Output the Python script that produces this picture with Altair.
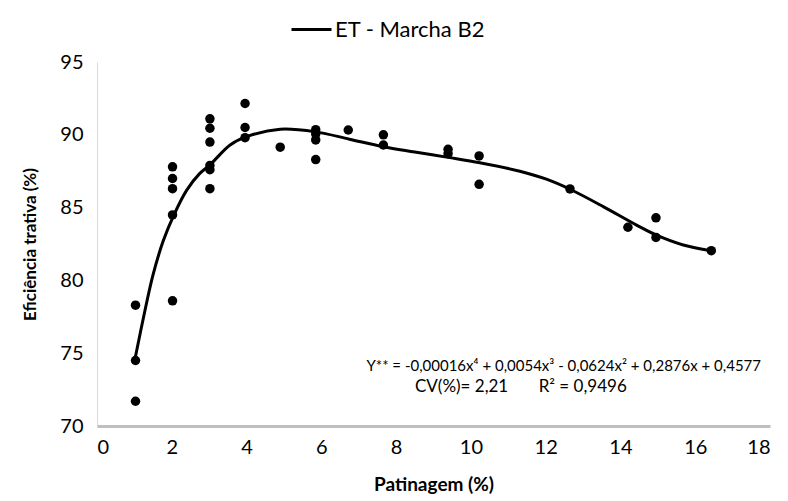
import altair as alt
import pandas as pd

# observed points
obs_x = [1.03, 1.03, 1.03,
         2.02, 2.02, 2.02, 2.02, 2.02,
         3.02, 3.02, 3.02, 3.02, 3.02, 3.02,
         3.96, 3.96, 3.96,
         4.90,
         5.85, 5.85, 5.85, 5.85,
         6.72,
         7.66, 7.66,
         9.39, 9.39,
         10.22, 10.22,
         12.65,
         14.20, 14.95, 14.95,
         16.43]
obs_y = [78.3, 74.5, 71.7,
         78.6, 84.5, 86.3, 87.0, 87.8,
         86.3, 87.6, 87.9, 89.5, 90.45, 91.1,
         92.15, 90.5, 89.8,
         89.15,
         90.35, 90.05, 89.65, 88.3,
         90.33,
         90.0, 89.3,
         89.0, 88.7,
         88.55, 86.6,
         86.28,
         83.65, 84.3, 82.95,
         82.04]

# fitted curve
fit_x = [1.02, 1.28, 1.5, 1.77, 2.04, 2.4, 2.75, 3.02, 3.56, 4.0, 4.9, 5.85, 6.75, 7.66,
         8.5, 9.39, 10.24, 11.31, 12.02, 12.65, 13.54, 14.43, 14.95, 15.68, 16.43]
fit_y = [74.65, 77.9, 80.4, 82.7, 84.4, 86.2, 87.35, 87.93, 89.3, 89.87, 90.38, 90.2, 89.7, 89.18,
         88.82, 88.45, 88.08, 87.5, 86.95, 86.26, 85.07, 83.8, 83.12, 82.43, 82.04]

series_name = "ET - Marcha B2"
eq_text = "Y** = -0,00016x\u2074 + 0,0054x\u00b3 - 0,0624x\u00b2 + 0,2876x + 0,4577"
stat_text = "CV(%)= 2,21\u00a0\u00a0\u00a0\u00a0\u00a0\u00a0 R\u00b2 = 0,9496"

x_ticks = list(range(0, 19, 2))
y_ticks = [70, 75, 80, 85, 90, 95]

pts = pd.DataFrame({"x": obs_x, "y": obs_y})
fit = pd.DataFrame({"x": fit_x, "y": fit_y, "s": [series_name] * len(fit_x)})

FONT = "Lato"

xs = alt.Scale(domain=[0, 18], nice=False, zero=False)
ys = alt.Scale(domain=[70, 95], nice=False, zero=False)

xax = alt.Axis(values=x_ticks, title="Patinagem (%)", grid=False, ticks=False,
               domainColor="#bfbfbf", domainWidth=3, labelFontSize=20, labelFont=FONT,
               labelColor="#000000", labelPadding=11, titleFont=FONT, titleFontSize=19,
               titleFontWeight="bold", titleColor="#000000", titlePadding=18, format="d")
yax = alt.Axis(values=y_ticks, title="Eficiência trativa (%)", grid=False, ticks=False,
               domainColor="#d9d9d9", domainWidth=1, labelFontSize=20, labelFont=FONT,
               labelColor="#000000", labelPadding=14, titleFont=FONT, titleFontSize=17,
               titleFontWeight="bold", titleColor="#000000", titlePadding=20, format="d")

line = alt.Chart(fit).mark_line(interpolate="catmull-rom", strokeWidth=3).encode(
    x=alt.X("x:Q", scale=xs, axis=xax),
    y=alt.Y("y:Q", scale=ys, axis=yax),
    color=alt.Color("s:N", scale=alt.Scale(range=["#000000"]),
                    legend=alt.Legend(title=None, orient="none", legendX=193, legendY=-54,
                                      symbolType="stroke", symbolSize=1600,
                                      symbolStrokeWidth=3, labelFontSize=22,
                                      labelFont=FONT, labelColor="#000000",
                                      labelOffset=2)),
)

points = alt.Chart(pts).mark_circle(size=90, opacity=1, color="#000000").encode(
    x=alt.X("x:Q", scale=xs),
    y=alt.Y("y:Q", scale=ys),
)

eq = alt.Chart(pd.DataFrame({"t": [eq_text]})).mark_text(
    align="right", baseline="middle", font=FONT, fontSize=15, color="#000000"
).encode(x=alt.value(664), y=alt.value(304), text="t:N")

stat = alt.Chart(pd.DataFrame({"t": [stat_text]})).mark_text(
    align="left", baseline="middle", font=FONT, fontSize=17, color="#000000"
).encode(x=alt.value(318), y=alt.value(325), text="t:N")

chart = alt.layer(line, points, eq, stat).properties(
    width=673, height=364,
    autosize=alt.AutoSizeParams(type="none"),
    padding={"left": 89, "top": 54, "right": 10, "bottom": 70},
).configure_view(stroke=None)

chart.save("out.html", embed_options={"renderer": "svg", "actions": False})
